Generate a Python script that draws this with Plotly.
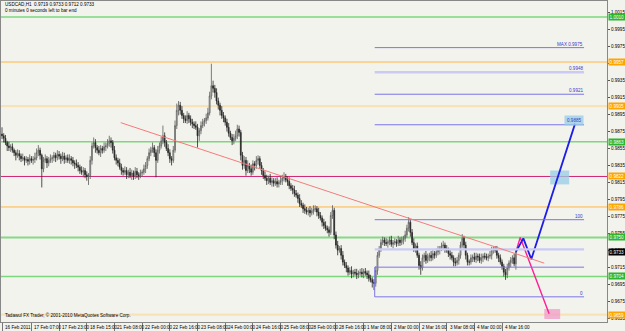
import plotly.graph_objects as go

# ---------------- DATA ----------------
BASE = 0.9600  # prices below are given in pips above this base
symbol = "USDCAD,H1"

close_pips = [
    270,267,262,258,256,257,253,250,247,249,
    246,243,244,241,242,240,243,241,242,244,
    250,253,247,231,241,243,238,241,243,244,
    247,244,248,246,243,246,242,244,241,243,
    241,238,237,235,233,229,227,229,224,222,
    223,241,258,262,256,253,250,255,253,257,
    258,261,264,262,253,244,241,238,233,229,
    227,229,224,227,223,226,222,228,224,223,
    226,227,231,235,243,250,253,256,250,241,
    253,258,264,270,262,255,250,243,241,253,
    282,300,306,300,294,290,288,294,290,286,
    284,282,280,270,276,282,286,288,291,297,
    317,329,326,321,311,306,300,294,291,286,
    280,273,268,264,267,270,278,274,247,235,
    241,229,235,231,227,237,235,241,243,235,
    229,223,220,217,220,215,217,214,216,213,
    215,217,220,222,218,216,211,208,206,202,
    200,196,190,188,184,182,180,182,179,181,
    183,184,180,176,173,168,164,161,159,156,
    176,182,153,141,135,137,129,121,117,114,
    109,111,107,109,108,106,108,109,107,110,
    108,106,102,100,97,96,111,129,137,144,
    147,144,143,145,147,142,144,145,143,147,
    144,147,149,153,161,168,156,144,137,140,
    129,117,114,126,129,123,127,129,126,131,
    129,133,135,137,140,141,137,135,131,129,
    126,121,120,123,129,141,149,141,129,121,
    121,126,127,124,128,127,123,126,128,127,
    126,128,129,135,136,135,129,126,121,116,
    109,106,114,120,123,126,119,133,
]
first_open_pips = 272

wick_up = [
    8,3,4,2,5,3,4,2,3,5, 4,3,5,2,4,3,5,3,4,6, 5,6,3,2,4,5,3,4,5,3,
    4,3,5,4,3,5,4,3,4,5, 3,4,3,5,4,3,5,4,3,4, 3,5,4,6,4,3,5,4,3,5,
    4,5,6,4,3,5,4,3,5,4, 3,5,4,3,5,4,3,5,4,3, 4,3,5,4,3,5,4,6,3,4,
    5,4,5,12,4,3,5,4,3,5, 6,8,5,4,5,3,4,5,3,4, 4,3,5,4,3,5,4,3,5,6,
    5,26,6,4,5,4,3,5,4,3, 4,5,3,4,5,6,5,4,3,4, 5,4,6,3,5,4,3,5,4,3,
    4,3,5,4,3,5,4,3,4,5, 3,5,4,5,3,4,5,3,4,5, 4,3,5,4,3,5,4,3,5,4,
    5,4,3,5,4,3,4,5,3,4, 4,6,3,4,5,3,4,5,3,4, 3,4,5,3,4,5,3,4,5,3,
    4,3,5,4,3,4,5,4,3,4, 4,3,5,3,4,5,3,4,3,5, 3,4,3,5,4,6,3,4,5,3,
    4,3,5,4,3,5,4,3,5,4, 3,4,5,3,4,5,3,4,3,4, 4,3,5,4,3,4,5,3,4,3,
    3,4,3,5,4,3,4,5,3,4, 4,3,5,4,3,4,5,3,4,3, 3,4,5,3,4,3,5,0,
]
wick_dn = [
    4,5,3,6,4,5,3,4,6,3, 5,4,3,6,3,5,4,3,5,4, 3,4,5,22,4,3,6,4,3,5,
    4,5,3,4,6,3,5,4,3,4, 5,4,6,3,5,4,3,6,4,5, 10,4,5,3,6,4,3,5,4,3,
    5,3,4,6,4,3,5,4,3,5, 4,3,5,4,3,5,4,3,4,5, 3,4,3,5,4,3,4,3,5,20,
    3,4,3,4,5,3,4,5,6,3, 3,4,6,5,4,5,3,4,5,4, 5,4,3,14,6,4,3,5,4,3,
    3,4,5,6,4,5,6,4,5,4, 5,4,3,5,4,3,4,5,6,5, 4,6,3,5,4,3,6,4,5,4,
    5,4,3,5,4,3,5,4,3,4, 4,3,5,4,3,5,4,3,5,4, 3,5,4,3,5,4,3,4,5,3,
    4,3,5,4,3,5,4,3,4,5, 3,4,5,4,6,3,5,4,3,5, 4,3,5,4,3,5,4,3,4,5,
    3,5,4,3,6,8,4,5,3,4, 3,4,3,5,4,3,5,3,4,3, 4,3,5,4,3,4,5,3,4,5,
    3,5,8,3,5,4,3,5,4,3, 4,3,4,5,3,4,5,3,4,5, 3,5,4,3,5,4,3,4,5,4,
    4,3,5,3,4,5,3,4,5,3, 3,4,3,5,4,3,4,5,3,4, 5,6,4,3,5,4,3,7,
]

time_labels = ["16 Feb 2011", "17 Feb 07:00", "17 Feb 23:00", "18 Feb 15:00",
               "21 Feb 08:00", "22 Feb 00:00", "22 Feb 16:00", "23 Feb 08:00",
               "24 Feb 00:00", "24 Feb 16:00", "25 Feb 08:00", "28 Feb 00:00",
               "28 Feb 16:00", "1 Mar 08:00", "2 Mar 00:00", "2 Mar 16:00",
               "3 Mar 08:00", "4 Mar 00:00", "4 Mar 16:00"]
BARS_PER_LABEL = 16

price_ticks = [0.9655 + 0.0020 * k for k in range(19)]

# horizontal support/resistance levels
level_prices = [1.0010, 0.9957, 0.9905, 0.9863, 0.9822, 0.9786, 0.9750, 0.9704, 0.9659]
level_kind = ["green", "orange", "wheat", "green", "crimson", "orange", "green2", "green", "wheat"]

# fibonacci expansion levels
fib_prices = [0.9974, 0.9945, 0.9919, 0.9883, 0.9771, 0.9736, 0.9715, 0.9680]
fib_text = ["MAX 0.9975", "0.9948", "0.9921", "0.9885", "100", "", "", "0"]
fib_heavy = [False, True, False, False, False, True, False, False]
fib_start_bar, fib_end_bar = 215.4, 336.4

# trend line (bar index, price)
trend_bars = [68.6, 313.4]
trend_prices = [0.98855, 0.97197]

# projected scenarios
blue_bars = [297, 301.3, 305.9, 331.2]
blue_prices = [0.9733, 0.9749, 0.97244, 0.98843]
pink_bars = [297, 299.5, 316.2]
pink_prices = [0.9733, 0.9750, 0.9660]

current_price = 0.9733

# ---------------- BUILD ----------------
closes = [BASE + v / 10000 for v in close_pips]
opens = [BASE + first_open_pips / 10000] + closes[:-1]
highs = [max(o, c) + u / 10000 for o, c, u in zip(opens, closes, wick_up)]
lows = [min(o, c) - d / 10000 for o, c, d in zip(opens, closes, wick_dn)]
bars = list(range(len(closes)))

FONT = "Liberation Sans, Arial, sans-serif"
FS = 4.6

style = {
    "green":   dict(color="#7DD87D", width=1.5, box="#2DB52D"),
    "green2":  dict(color="#86DA86", width=2.0, box="#2DB52D"),
    "orange":  dict(color="#FFB540", width=1.0, box="#FFA500"),
    "wheat":   dict(color="#F9E2B6", width=2.4, box="#FFA500"),
    "crimson": dict(color="#CC2470", width=1.0, box="#FFA500"),
}

fig = go.Figure()
fig.add_trace(go.Candlestick(
    x=bars, open=opens, high=highs, low=lows, close=closes,
    increasing=dict(line=dict(color="#5a5a5a", width=0.8), fillcolor="#f4f4f4"),
    decreasing=dict(line=dict(color="#262626", width=0.8), fillcolor="#262626"),
    whiskerwidth=0, showlegend=False, hoverinfo="skip"))

shapes = []
annotations = []

for p, k in zip(level_prices, level_kind):
    st = style[k]
    shapes.append(dict(type="line", xref="paper", x0=0, x1=1, yref="y", y0=p, y1=p,
                       line=dict(color=st["color"], width=st["width"]), layer="below"))

for p, t, h in zip(fib_prices, fib_text, fib_heavy):
    shapes.append(dict(type="line", xref="x", yref="y", x0=fib_start_bar, x1=fib_end_bar,
                       y0=p, y1=p,
                       line=dict(color="#CACAF4" if h else "#7B76E6", width=2.4 if h else 1)))
    if t:
        boxed = (p == fib_prices[3])
        annotations.append(dict(x=fib_end_bar, y=p, xref="x", yref="y", text=t,
                                showarrow=False, xanchor="right", yanchor="bottom",
                                yshift=-1 if boxed else 0,
                                font=dict(family=FONT, size=FS, color="#3c3cc8"),
                                bgcolor="rgba(150,205,230,0.75)" if boxed else None,
                                borderpad=2 if boxed else 0))
shapes.append(dict(type="line", xref="x", yref="y", x0=fib_start_bar, x1=fib_start_bar,
                   y0=fib_prices[7], y1=fib_prices[6], line=dict(color="#7B76E6", width=1)))

# trend line
shapes.append(dict(type="line", xref="x", yref="y", x0=trend_bars[0], x1=trend_bars[1],
                   y0=trend_prices[0], y1=trend_prices[1],
                   line=dict(color="#F47C7C", width=1)))

# label boxes of projected targets
shapes.append(dict(type="rect", xref="x", yref="y", x0=316.8, x1=327.8, y0=0.98126, y1=0.9829,
                   fillcolor="rgba(150,205,230,0.75)", line=dict(width=0), layer="below"))
shapes.append(dict(type="rect", xref="x", yref="y", x0=313.4, x1=322.6, y0=0.96538, y1=0.96656,
                   fillcolor="rgba(240,160,200,0.8)", line=dict(width=0), layer="below"))

fig.add_trace(go.Scatter(x=pink_bars, y=pink_prices, mode="lines",
                         line=dict(color="#FF1E96", width=1.4), showlegend=False, hoverinfo="skip"))
fig.add_trace(go.Scatter(x=blue_bars, y=blue_prices, mode="lines",
                         line=dict(color="#1E1EE6", width=1.8), showlegend=False, hoverinfo="skip"))

# price boxes on the right axis
for p, k in zip(level_prices, level_kind):
    annotations.append(dict(xref="paper", x=1, xanchor="left", xshift=1, yref="y", y=p,
                            text=f"{p:.4f}", showarrow=False,
                            font=dict(family=FONT, size=FS, color="white"),
                            bgcolor=style[k]["box"], borderpad=0.6))
annotations.append(dict(xref="paper", x=1, xanchor="left", xshift=1, yref="y", y=current_price,
                        text=f"{current_price:.4f}", showarrow=False,
                        font=dict(family=FONT, size=FS, color="white"),
                        bgcolor="#000000", borderpad=0.6))

# time labels
tick_pos = [0] + [1 + BARS_PER_LABEL * k for k in range(1, len(time_labels))]
for b, t in zip(tick_pos, time_labels):
    annotations.append(dict(x=b, xref="x", y=-0.016, yref="paper", text=t, showarrow=False,
                            xanchor="left", xshift=1, yanchor="middle",
                            font=dict(family=FONT, size=FS, color="#000")))

# header / footer texts
o, h, l, c = opens[-1], highs[-1], lows[-1], closes[-1]
annotations.append(dict(xref="paper", yref="paper", x=0.003, y=1 - 4 / 322, xanchor="left",
                        yanchor="middle", showarrow=False,
                        text=f"{symbol}  {o:.4f} {h:.4f} {l:.4f} {c:.4f}",
                        font=dict(family=FONT, size=FS, color="#000")))
annotations.append(dict(xref="paper", yref="paper", x=0.003, y=1 - 10 / 322, xanchor="left",
                        yanchor="middle", showarrow=False,
                        text="0 minutes 0 seconds left to bar end",
                        font=dict(family=FONT, size=FS, color="#000")))
annotations.append(dict(xref="paper", yref="paper", x=0.003, y=7 / 322, xanchor="left",
                        yanchor="middle", showarrow=False,
                        text="Tadawul FX Trader, © 2001-2010 MetaQuotes Software Corp.",
                        font=dict(family=FONT, size=FS, color="#000")))

fig.update_layout(
    width=625, height=331,
    margin=dict(l=0, r=17, t=0, b=9),
    paper_bgcolor="#F3F3ED", plot_bgcolor="#F3F3ED",
    shapes=shapes, annotations=annotations, showlegend=False,
    xaxis=dict(range=[-0.576, 349.65], rangeslider=dict(visible=False), showgrid=False,
               zeroline=False, tickvals=tick_pos, showticklabels=False, ticks="outside",
               ticklen=8, tickcolor="#777", tickwidth=1,
               showline=True, linecolor="#888", linewidth=1, mirror=True),
    yaxis=dict(range=[0.96503, 1.00290], side="right", showgrid=False, zeroline=False,
               tickvals=price_ticks, ticktext=[f"{t:.4f}" for t in price_ticks],
               ticks="outside", ticklen=2, tickcolor="#555",
               tickfont=dict(family=FONT, size=FS, color="#000"),
               showline=True, linecolor="#888", linewidth=1, mirror=True),
)

fig.write_html("out.html")
